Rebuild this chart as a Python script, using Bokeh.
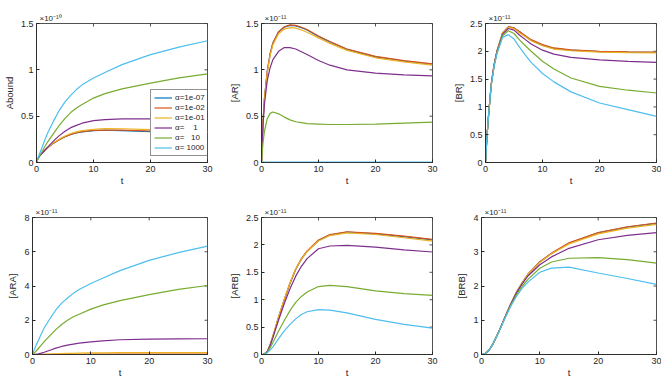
import numpy as np
from bokeh.plotting import figure
from bokeh.models import (Range1d, FixedTicker, Title, Legend, LegendItem,
                          NumeralTickFormatter)
from bokeh.layouts import column, row
from bokeh.embed import file_html
from bokeh.resources import INLINE

# ---------------- data ----------------
t = [0, 0.25, 0.5, 1, 1.5, 2, 3, 4, 5, 6, 7, 8, 10, 12, 15, 20, 25, 30]

alpha_labels = ["\u03b1=1e-07", "\u03b1=1e-02", "\u03b1=1e-01",
                "\u03b1=\u00a0\u00a0\u00a0\u00a01", "\u03b1=\u00a0\u00a0\u00a010", "\u03b1=\u00a01000"]
colors = ["#0072BD", "#D95319", "#EDB120", "#7E2F8E", "#77AC30", "#4DBEEE"]

# A_bound  (x 1e-10)
abound_blue   = [0, 0.042, 0.069, 0.103, 0.134, 0.162, 0.209, 0.246, 0.278, 0.302, 0.319, 0.331, 0.344, 0.348, 0.345, 0.334, 0.324, 0.315]
abound_orange = [0, 0.042, 0.069, 0.103, 0.134, 0.162, 0.209, 0.247, 0.279, 0.304, 0.321, 0.333, 0.346, 0.350, 0.349, 0.340, 0.331, 0.322]
abound_yellow = [0, 0.041, 0.068, 0.101, 0.134, 0.163, 0.212, 0.252, 0.286, 0.313, 0.331, 0.344, 0.359, 0.365, 0.364, 0.354, 0.343, 0.334]
abound_purple = [0, 0.039, 0.063, 0.100, 0.135, 0.168, 0.233, 0.290, 0.338, 0.376, 0.400, 0.424, 0.451, 0.463, 0.471, 0.472, 0.468, 0.465]
abound_green  = [0, 0.034, 0.064, 0.121, 0.175, 0.226, 0.315, 0.401, 0.476, 0.539, 0.589, 0.626, 0.695, 0.743, 0.795, 0.857, 0.913, 0.957]
abound_cyan   = [0, 0.048, 0.090, 0.167, 0.248, 0.324, 0.449, 0.563, 0.655, 0.725, 0.787, 0.838, 0.912, 0.971, 1.056, 1.164, 1.245, 1.314]

# [AR]  (x 1e-11)
ar_blue   = [0, 0.42, 0.68, 0.98, 1.17, 1.29, 1.41, 1.46, 1.48, 1.475, 1.455, 1.43, 1.36, 1.30, 1.22, 1.14, 1.095, 1.06]
ar_orange = [0, 0.42, 0.68, 0.98, 1.17, 1.29, 1.41, 1.465, 1.485, 1.48, 1.46, 1.435, 1.365, 1.305, 1.225, 1.145, 1.10, 1.065]
ar_yellow = [0, 0.41, 0.67, 0.96, 1.15, 1.27, 1.39, 1.44, 1.455, 1.45, 1.43, 1.405, 1.345, 1.285, 1.21, 1.13, 1.085, 1.05]
ar_purple = [0, 0.39, 0.62, 0.88, 1.02, 1.11, 1.20, 1.24, 1.24, 1.225, 1.195, 1.165, 1.10, 1.05, 1.00, 0.965, 0.945, 0.935]
ar_green  = [0, 0.20, 0.33, 0.47, 0.53, 0.545, 0.525, 0.49, 0.46, 0.44, 0.43, 0.42, 0.415, 0.41, 0.41, 0.415, 0.425, 0.435]
ar_cyan   = [0, 0.003, 0.004, 0.005, 0.005, 0.005, 0.005, 0.005, 0.005, 0.005, 0.005, 0.005, 0.005, 0.005, 0.005, 0.005, 0.005, 0.005]

# [BR]  (x 1e-11)
br_blue   = [0, 0.45, 0.80, 1.40, 1.75, 2.00, 2.33, 2.44, 2.42, 2.35, 2.27, 2.20, 2.11, 2.05, 2.02, 1.995, 1.985, 1.98]
br_orange = [0, 0.45, 0.80, 1.40, 1.75, 2.00, 2.33, 2.44, 2.42, 2.35, 2.28, 2.21, 2.12, 2.06, 2.025, 2.00, 1.99, 1.985]
br_yellow = [0, 0.45, 0.80, 1.40, 1.75, 2.00, 2.33, 2.43, 2.41, 2.33, 2.26, 2.19, 2.10, 2.04, 2.01, 1.985, 1.975, 1.97]
br_purple = [0, 0.45, 0.80, 1.40, 1.75, 1.99, 2.31, 2.41, 2.38, 2.29, 2.21, 2.13, 2.02, 1.95, 1.89, 1.845, 1.82, 1.80]
br_green  = [0, 0.45, 0.80, 1.39, 1.73, 1.97, 2.28, 2.37, 2.32, 2.20, 2.10, 2.00, 1.82, 1.68, 1.52, 1.37, 1.30, 1.25]
br_cyan   = [0, 0.45, 0.80, 1.38, 1.72, 1.95, 2.25, 2.30, 2.22, 2.07, 1.93, 1.80, 1.60, 1.45, 1.27, 1.07, 0.95, 0.83]

# [ARA]  (x 1e-11)
ara_blue   = [0, 0, 0, 0, 0, 0, 0, 0, 0, 0, 0, 0, 0, 0, 0, 0, 0, 0]
ara_orange = [0, 0, 0, 0, 0.002, 0.003, 0.005, 0.008, 0.01, 0.012, 0.014, 0.015, 0.018, 0.02, 0.022, 0.024, 0.025, 0.026]
ara_yellow = [0, 0, 0, 0.002, 0.005, 0.01, 0.02, 0.035, 0.05, 0.06, 0.07, 0.08, 0.09, 0.10, 0.105, 0.11, 0.11, 0.11]
ara_purple = [0, 0.002, 0.01, 0.04, 0.08, 0.13, 0.25, 0.37, 0.47, 0.55, 0.61, 0.66, 0.74, 0.80, 0.86, 0.90, 0.915, 0.92]
ara_green  = [0, 0.07, 0.15, 0.35, 0.55, 0.75, 1.10, 1.45, 1.75, 2.00, 2.20, 2.35, 2.65, 2.88, 3.15, 3.50, 3.80, 4.03]
ara_cyan   = [0, 0.24, 0.45, 0.82, 1.20, 1.55, 2.10, 2.60, 3.00, 3.30, 3.57, 3.80, 4.15, 4.45, 4.90, 5.50, 5.95, 6.33]

# [ARB]  (x 1e-11)
arb_blue   = [0, 0.002, 0.01, 0.05, 0.17, 0.33, 0.68, 1.00, 1.30, 1.55, 1.74, 1.88, 2.08, 2.18, 2.235, 2.20, 2.15, 2.09]
arb_orange = [0, 0.002, 0.01, 0.05, 0.17, 0.33, 0.68, 1.00, 1.30, 1.56, 1.75, 1.89, 2.09, 2.19, 2.24, 2.21, 2.16, 2.10]
arb_yellow = [0, 0.002, 0.01, 0.05, 0.17, 0.34, 0.69, 1.01, 1.31, 1.56, 1.74, 1.88, 2.07, 2.17, 2.22, 2.19, 2.13, 2.07]
arb_purple = [0, 0.002, 0.01, 0.05, 0.16, 0.31, 0.63, 0.93, 1.20, 1.43, 1.61, 1.75, 1.93, 1.98, 1.99, 1.96, 1.91, 1.87]
arb_green  = [0, 0.002, 0.01, 0.04, 0.12, 0.22, 0.43, 0.62, 0.80, 0.95, 1.06, 1.14, 1.24, 1.26, 1.24, 1.16, 1.11, 1.08]
arb_cyan   = [0, 0.001, 0.005, 0.03, 0.08, 0.14, 0.29, 0.43, 0.55, 0.65, 0.73, 0.78, 0.82, 0.81, 0.76, 0.64, 0.55, 0.48]

# [BRB]  (x 1e-11)
brb_blue   = [0, 0.001, 0.01, 0.08, 0.18, 0.32, 0.68, 1.08, 1.47, 1.82, 2.10, 2.35, 2.70, 2.95, 3.25, 3.55, 3.72, 3.83]
brb_orange = [0, 0.001, 0.01, 0.08, 0.18, 0.32, 0.68, 1.08, 1.47, 1.82, 2.10, 2.35, 2.71, 2.96, 3.26, 3.56, 3.73, 3.84]
brb_yellow = [0, 0.001, 0.01, 0.08, 0.18, 0.32, 0.68, 1.08, 1.47, 1.82, 2.10, 2.35, 2.69, 2.94, 3.23, 3.52, 3.69, 3.80]
brb_purple = [0, 0.001, 0.01, 0.08, 0.18, 0.32, 0.68, 1.08, 1.46, 1.80, 2.07, 2.30, 2.62, 2.85, 3.10, 3.35, 3.48, 3.56]
brb_green  = [0, 0.001, 0.01, 0.08, 0.18, 0.32, 0.67, 1.06, 1.43, 1.74, 2.00, 2.20, 2.52, 2.70, 2.81, 2.83, 2.77, 2.67]
brb_cyan   = [0, 0.001, 0.01, 0.08, 0.18, 0.32, 0.67, 1.05, 1.40, 1.70, 1.94, 2.12, 2.40, 2.52, 2.55, 2.38, 2.22, 2.05]

x_ticks = [0, 10, 20, 30]

panels = [
    dict(ylabel="Abound", mult="\u00d710\u207b\u00b9\u2070", ymax=1.5, yticks=[0, 0.5, 1, 1.5],
         series=[abound_blue, abound_orange, abound_yellow, abound_purple, abound_green, abound_cyan]),
    dict(ylabel="[AR]", mult="\u00d710\u207b\u00b9\u00b9", ymax=1.5, yticks=[0, 0.5, 1, 1.5],
         series=[ar_blue, ar_orange, ar_yellow, ar_purple, ar_green, ar_cyan]),
    dict(ylabel="[BR]", mult="\u00d710\u207b\u00b9\u00b9", ymax=2.5, yticks=[0, 0.5, 1, 1.5, 2, 2.5],
         series=[br_blue, br_orange, br_yellow, br_purple, br_green, br_cyan]),
    dict(ylabel="[ARA]", mult="\u00d710\u207b\u00b9\u00b9", ymax=8, yticks=[0, 2, 4, 6, 8],
         series=[ara_blue, ara_orange, ara_yellow, ara_purple, ara_green, ara_cyan]),
    dict(ylabel="[ARB]", mult="\u00d710\u207b\u00b9\u00b9", ymax=2.5, yticks=[0, 0.5, 1, 1.5, 2, 2.5],
         series=[arb_blue, arb_orange, arb_yellow, arb_purple, arb_green, arb_cyan]),
    dict(ylabel="[BRB]", mult="\u00d710\u207b\u00b9\u00b9", ymax=4, yticks=[0, 1, 2, 3, 4],
         series=[brb_blue, brb_orange, brb_yellow, brb_purple, brb_green, brb_cyan]),
]

FONT = "Liberation Sans"
INK = "#262626"
col_widths = [225, 224, 212]
right_borders = [18, 17, 5]
row_heights = [193, 187]
top_borders = [23, 24]
bottom_borders = [31, 24]


def style_axis(ax, ticks):
    ax.ticker = FixedTicker(ticks=ticks)
    ax.major_tick_in = 3
    ax.major_tick_out = 0
    ax.minor_tick_line_color = None
    ax.axis_line_color = INK
    ax.major_tick_line_color = INK
    ax.axis_line_width = 0.8
    ax.major_label_text_font = FONT
    ax.major_label_text_color = INK
    ax.major_label_text_font_size = "9px"
    ax.major_label_standoff = 3
    ax.formatter = NumeralTickFormatter(format="0.[0]")
    ax.axis_label_text_font = FONT
    ax.axis_label_text_font_style = "normal"
    ax.axis_label_text_font_size = "9.5px"
    ax.axis_label_text_color = INK


figs = []
for i, pd_ in enumerate(panels):
    r, c = divmod(i, 3)
    ymax = pd_["ymax"]
    p = figure(width=col_widths[c], height=row_heights[r],
               x_range=Range1d(0, 30), y_range=Range1d(0, ymax),
               output_backend="svg", toolbar_location=None,
               min_border_left=32, min_border_right=right_borders[c],
               min_border_top=top_borders[r], min_border_bottom=bottom_borders[r],
               background_fill_color="white", border_fill_color="white")
    p.grid.visible = False
    p.outline_line_color = INK
    p.outline_line_width = 0.8

    xa = p.xaxis[0]
    ya = p.yaxis[0]
    style_axis(xa, x_ticks)
    style_axis(ya, pd_["yticks"])
    xa.axis_label = "t"
    xa.axis_label_standoff = 0
    ya.axis_label = pd_["ylabel"]
    ya.axis_label_standoff = 3

    # inward ticks on the top and right edges of the box
    p.scatter(x_ticks, [ymax] * len(x_ticks), marker="dash", angle=np.pi / 2, size=6,
              line_color=INK, line_width=0.8)
    p.scatter([30] * len(pd_["yticks"]), pd_["yticks"], marker="dash", size=6,
              line_color=INK, line_width=0.8)

    renderers = []
    for vals, col in zip(pd_["series"], colors):
        rr = p.line(t, vals, line_color=col, line_width=1.2)
        renderers.append(rr)

    # exponent multiplier above the box
    p.add_layout(Title(text=pd_["mult"], align="left", offset=3, standoff=1,
                       text_font=FONT, text_font_size="8px", text_font_style="normal",
                       text_color=INK), "above")

    if i == 0:
        items = [LegendItem(label=lab, renderers=[rr]) for lab, rr in zip(alpha_labels, renderers)]
        leg = Legend(items=items, location=(114, 6))
        leg.label_text_font = FONT
        leg.label_text_font_size = "8px"
        leg.label_text_color = INK
        leg.glyph_width = 18
        leg.glyph_height = 9
        leg.label_height = 9
        leg.label_standoff = 3
        leg.spacing = 1
        leg.padding = 3
        leg.margin = 0
        leg.border_line_color = INK
        leg.border_line_width = 0.6
        leg.background_fill_alpha = 1
        p.add_layout(leg)
    figs.append(p)

layout = column(row(*figs[:3], spacing=0), row(*figs[3:], spacing=0), spacing=0)

open("out.html", "w").write(file_html(layout, INLINE))
